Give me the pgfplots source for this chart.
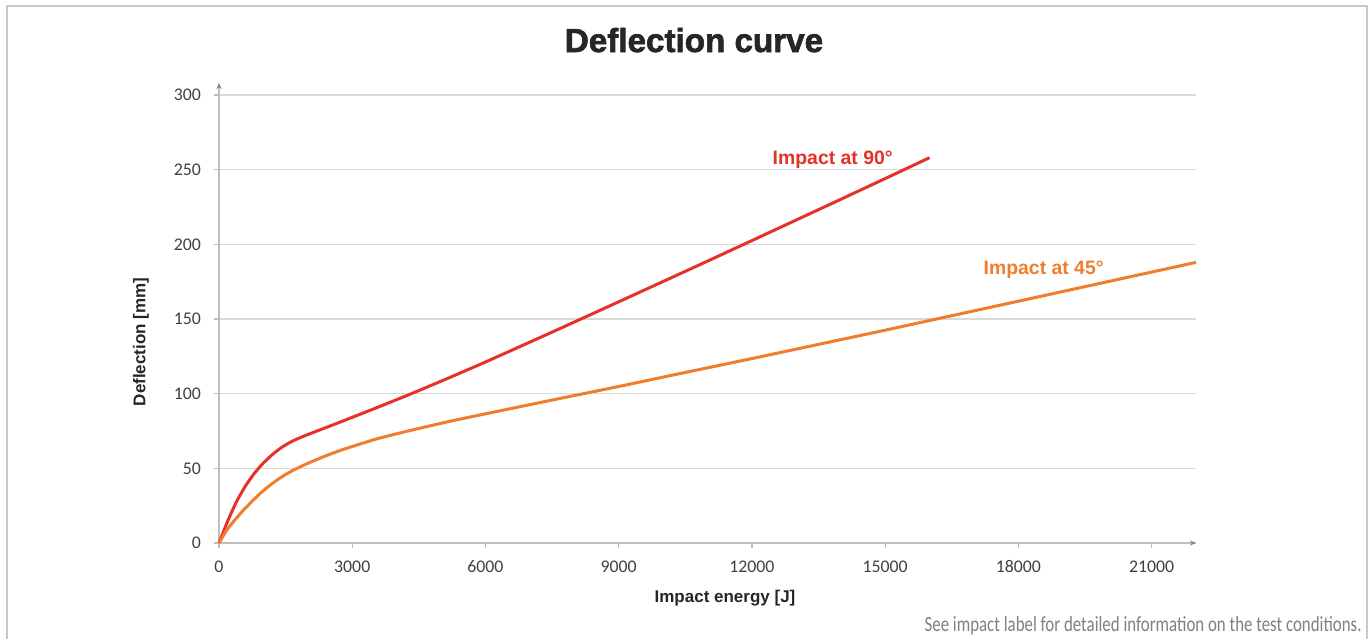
\documentclass[border=0pt]{standalone}
\usepackage{fontspec}
\setmainfont{Liberation Sans}
\newfontfamily\carlito{Carlito}
\newfontfamily\titlefont{Liberation Sans Bold}[FakeBold=2]
\usepackage{pgfplots}
\pgfplotsset{compat=1.18}
\usetikzlibrary{arrows.meta}
\definecolor{redline}{RGB}{228,50,40}
\definecolor{orangeline}{RGB}{239,125,45}
\definecolor{framegray}{RGB}{200,200,200}
\definecolor{gridgray}{RGB}{217,217,217}
\definecolor{axisgray}{RGB}{190,190,190}
\definecolor{tickgray}{RGB}{64,64,64}
\definecolor{titlegray}{RGB}{38,38,38}
\definecolor{notegray}{RGB}{128,128,128}

\pgfplotstableread{
x y
0 0
200 15
400 28
600 38.4
800 46.8
1000 53.6
1200 59.2
1400 63.8
1600 67.4
1800 70.2
2050 73.2
2400 77.2
2800 81.8
3550 90.6
4300 99.6
5100 109.6
6000 121.2
7500 141.2
9000 161.5
10800 186
12000 202.5
13500 223.2
15000 244
16000 258
}\redtable

\pgfplotstableread{
x y
0 0
170 8.5
360 15.5
550 22
740 27.8
920 33
1110 37.8
1300 42
1480 45.5
1670 48.7
1850 51.3
2050 54
2400 58.3
2800 62.7
3550 69.7
4300 75.3
5200 81.5
6000 86.5
7500 95.7
9000 104.8
10500 114.2
12000 123.5
13500 133
15000 142.5
16500 152.2
18000 161.9
20000 174.9
22000 187.9
}\orangetable

\begin{document}
\begin{tikzpicture}
\useasboundingbox (0pt,0pt) rectangle (685pt,319.5pt);
\draw[framegray, line width=1pt] (3.25pt,0pt) -- (3.25pt,316.25pt) -- (683.25pt,316.25pt) -- (683.25pt,0pt);
\node[text=titlegray, font=\titlefont\fontsize{16.6}{19}\selectfont, anchor=base] at (347pt,293.5pt) {Deflection curve};
\begin{axis}[
  at={(109.5pt,48pt)}, anchor=south west,
  scale only axis, width=488.5pt, height=230pt,
  xmin=0, xmax=22000, ymin=0, ymax=308,
  axis lines=left,
  axis line style={draw=axisgray, line width=0.7pt, -{Stealth[length=3pt,width=2.5pt,color=gray]}},
  xtick={0,3000,...,21000},
  ytick={0,50,...,300},
  tick align=outside,
  major tick length=2.5pt,
  tick style={axisgray, line width=0.6pt},
  ymajorgrids,
  grid style={gridgray, line width=0.6pt},
  scaled ticks=false,
  /pgf/number format/assume math mode=true,
  /pgf/number format/set thousands separator={},
  ticklabel style={font=\carlito\fontsize{8.9}{10}\selectfont, text=tickgray},
  yticklabel style={xshift=-3pt},
  xticklabel style={yshift=-2.5pt, text height=6pt, text depth=0pt},
  clip=false,
]
\addplot[redline, line width=1.5pt, smooth, tension=0.35] table {\redtable};
\addplot[orangeline, line width=1.5pt, smooth, tension=0.35] table {\orangetable};
\node[text=redline, font=\bfseries\fontsize{9.7}{11}\selectfont, anchor=base west] at (axis cs:12310,253.5) {Impact at 90°};
\node[text=orangeline, font=\bfseries\fontsize{9.7}{11}\selectfont, anchor=base west] at (axis cs:17060,180) {Impact at 45°};
\end{axis}
\node[text=titlegray, font=\bfseries\fontsize{8.5}{10}\selectfont] at (362.5pt,20.5pt) {Impact energy [J]};
\node[text=titlegray, font=\bfseries\fontsize{8.5}{10}\selectfont, rotate=90] at (70.5pt,148.5pt) {Deflection [mm]};
\node[text=notegray, anchor=base east, inner sep=0pt] at (681pt,4pt) {\resizebox{218.5pt}{7.5pt}{\carlito See impact label for detailed information on the test conditions.}};
\end{tikzpicture}
\end{document}
